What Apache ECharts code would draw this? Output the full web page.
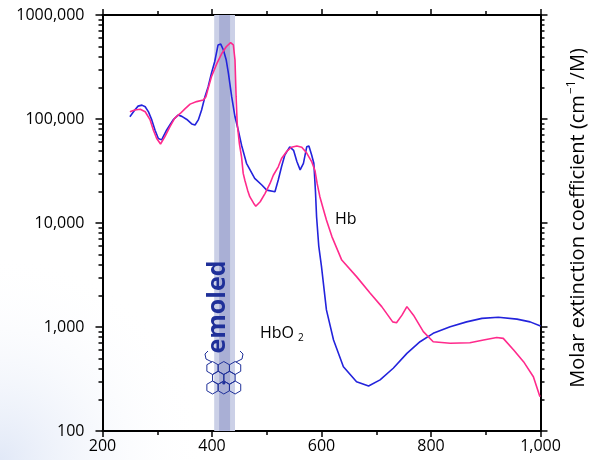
<!DOCTYPE html>
<html><head><meta charset="utf-8">
<script src="https://cdn.jsdelivr.net/npm/echarts@6/dist/echarts.min.js"></script>
<style>html,body{margin:0;padding:0;background:#fff}#c{width:598px;height:460px}</style>
</head><body><div id="c"></div>
<script>
// ---- data ----
const hbo2Wavelength = [250,253,259,265,272,278,284,290,296,302,305,308,311,317,323,329,338,345,354,363,369,375,381,387,393,399,405,411,416,421,426,430,436,442,448,454,463,478,491,500,515,521,527,533,542,549,555,561,567,573,577,582,586,589,591,595,600,609,622,640,664,686,707,731,756,780,804,835,865,893,923,957,981,1000];
const hbo2Value = [105000,109000,122000,133000,136000,131000,117000,98000,78000,65000,62800,63000,67600,78000,87500,98000,109000,106000,99000,89600,87500,98000,122000,163000,204000,275000,357000,514000,525000,458000,369000,275000,163000,105000,78000,56000,37500,26900,23200,20700,20000,25900,34700,45000,54000,50000,39000,32400,37500,54000,55000,45000,37500,20000,11500,6000,3800,1460,750,415,298,271,310,401,558,722,869,1007,1120,1210,1240,1190,1120,1020];
const hbWavelength = [250,259,269,278,287,293,299,306,314,323,332,342,351,360,372,384,389,393,399,409,418,426,434,439,442,444,446,450,454,457,460,465,469,476,480,488,497,506,512,521,527,536,545,555,564,573,582,588,592,597,603,609,619,628,637,664,689,710,730,737,747,756,768,786,804,835,871,896,920,932,951,969,987,999];
const hbValue = [117500,122000,124000,117500,98000,78000,65000,57500,67600,84000,102000,113000,126000,139000,147000,152000,164000,197000,255000,343000,428000,495000,542000,515000,369000,164000,91000,58000,43000,30000,25800,20700,17900,15500,14500,16000,19300,24000,28800,34700,41700,48500,53500,55000,53500,47000,39000,32000,24000,17900,13800,10700,7400,5700,4400,3050,2110,1570,1120,1100,1300,1570,1300,902,722,697,706,750,794,777,602,464,332,214];

const xTickValues = [200,400,600,800,1000];
const xTickLabels = ['200','400','600','800','1,000'];
const yTickValues = [100,1000,10000,100000,1000000];
const yTickLabels = ['100','1,000','10,000','100,000','1000,000'];
const yMinorTickValues = [200,300,400,500,600,700,800,900,2000,3000,4000,5000,6000,7000,8000,9000,20000,30000,40000,50000,60000,70000,80000,90000,200000,300000,400000,500000,600000,700000,800000,900000];
const bandOuter = [404,442];
const bandInner = [413,433];
const seriesNames = ['HbO2','Hb'];

const FONT = '"Open Sans", "DejaVu Sans", sans-serif';
const chart = echarts.init(document.getElementById('c'), null, {renderer:'canvas'});

const axisLineStyle = {color:'#000', width:2};
function xAxisDef(pos, showLabel){
  return {
    type:'value', position:pos, min:200, max:1000, interval:200,
    axisLine:{show:true, onZero:false, lineStyle:axisLineStyle},
    axisTick:{show:true, length:6, lineStyle:{color:'#000', width:1.5}},
    minorTick:{show:true, splitNumber:2, length:4, lineStyle:{color:'#000', width:1.5}},
    splitLine:{show:false}, minorSplitLine:{show:false},
    axisLabel:{show:showLabel, margin:7, color:'#000', fontSize:16, fontFamily:FONT,
      formatter:v=>{const i=xTickValues.indexOf(v); return i<0?'':xTickLabels[i];}}
  };
}
function yAxisDef(pos, minor, showLabel){
  const a = {
    type:'log', logBase:10, position:pos, min:100, max:1000000,
    axisLine:{show:true, onZero:false, lineStyle:axisLineStyle},
    axisTick:{show:true, length: minor?4:7, lineStyle:{color:'#000', width:1.5}},
    splitLine:{show:false}, minorTick:{show:false},
    axisLabel:{show:showLabel, margin:18, color:'#000', fontSize:16, fontFamily:FONT,
      formatter:v=>{const i=yTickValues.indexOf(v); return i<0?'':yTickLabels[i];}}
  };
  if (minor) a.axisTick.customValues = yMinorTickValues;
  return a;
}

// logo hexagon lattice (decoration)
const hexR = 6.5;
const hexCenters = [];
[[368,[212.5,223.8,235.1]],[377.75,[218.2,229.5]],[387.5,[212.5,223.8,235.1]]].forEach(([y,xs])=>xs.forEach(x=>hexCenters.push([x,y])));
const logoBlue = '#1f3099';
const hexGraphics = hexCenters.map(([cx,cy])=>({
  type:'polygon', silent:true, z:20,
  shape:{points:[0,1,2,3,4,5].map(k=>{const a=(-90+60*k)*Math.PI/180; return [cx+hexR*Math.cos(a), cy+hexR*Math.sin(a)];})},
  style:{fill:'none', stroke:logoBlue, lineWidth:1}
}));

const option = {
  animation:false,
  backgroundColor:'#fff',
  textStyle:{fontFamily:FONT},
  grid:{left:102.5, right:57.5, top:15, bottom:29, containLabel:false},
  xAxis:[xAxisDef('bottom', true), xAxisDef('top', false)],
  yAxis:[yAxisDef('left', false, true), yAxisDef('left', true, false), yAxisDef('right', false, false), yAxisDef('right', true, false)],
  series:[
    {
      name:seriesNames[0], type:'line', xAxisIndex:0, yAxisIndex:0, showSymbol:false, z:3,
      data:hbo2Wavelength.map((w,i)=>[w,hbo2Value[i]]),
      lineStyle:{color:'#2323dc', width:1.6}, itemStyle:{color:'#2323dc'},
      markArea:{silent:true, z:1,
        data:[
          [{xAxis:bandOuter[0], itemStyle:{color:'#cbd0e7'}},{xAxis:bandOuter[1]}],
          [{xAxis:bandInner[0], itemStyle:{color:'#a9afd5'}},{xAxis:bandInner[1]}]
        ]}
    },
    {
      name:seriesNames[1], type:'line', xAxisIndex:0, yAxisIndex:0, showSymbol:false, z:4,
      data:hbWavelength.map((w,i)=>[w,hbValue[i]]),
      lineStyle:{color:'#ff2a8c', width:1.6}, itemStyle:{color:'#ff2a8c'}
    }
  ],
  graphic:[
    {type:'rect', z:-10, silent:true, shape:{x:0,y:0,width:598,height:460},
      style:{fill:{type:'radial', x:0, y:1, r:0.45, colorStops:[{offset:0,color:'rgba(222,230,246,0.9)'},{offset:1,color:'rgba(255,255,255,0)'}]}}},
    {type:'text', z:20, x:578, y:218, rotation:Math.PI/2, silent:true,
      style:{text:'{n|Molar extinction coefficient (cm}{s|−1}{n|/M)}', align:'center', verticalAlign:'middle', fill:'#000',
        rich:{n:{fontSize:20, fontFamily:FONT, lineHeight:24, fill:'#000'}, s:{fontSize:12, fontFamily:FONT, lineHeight:12, verticalAlign:'top', fill:'#000', padding:[0,1,0,1]}}}},
    {type:'text', z:20, x:335, y:219, silent:true,
      style:{text:'Hb', fontSize:16, fontFamily:FONT, fill:'#000', align:'left', verticalAlign:'middle'}},
    {type:'text', z:20, x:260, y:333, silent:true,
      style:{text:'{a|HbO}{b|2}', align:'left', verticalAlign:'middle',
        rich:{a:{fontSize:16, fontFamily:FONT, lineHeight:20, fill:'#000'}, b:{fontSize:10, fontFamily:FONT, lineHeight:10, verticalAlign:'bottom', fill:'#000', padding:[0,0,0,4]}}}},
    {type:'text', z:20, x:218, y:307, rotation:Math.PI/2, silent:true,
      style:{text:'emoled', fontSize:25, fontWeight:'bold', fontFamily:'"Open Sans", sans-serif', fill:logoBlue, align:'center', verticalAlign:'middle'}},
    ...hexGraphics,
    {type:'circle', z:21, silent:true, shape:{cx:223.8, cy:383, r:1.6}, style:{fill:logoBlue}},
    {type:'polyline', z:20, silent:true, shape:{points:[[212,362],[206,359],[205,354],[208,351]]}, style:{stroke:logoBlue, lineWidth:1, fill:'none'}},
    {type:'polyline', z:20, silent:true, shape:{points:[[236,362],[242,359],[243,354],[240,351]]}, style:{stroke:logoBlue, lineWidth:1, fill:'none'}}
  ]
};
chart.setOption(option);
</script></body></html>
